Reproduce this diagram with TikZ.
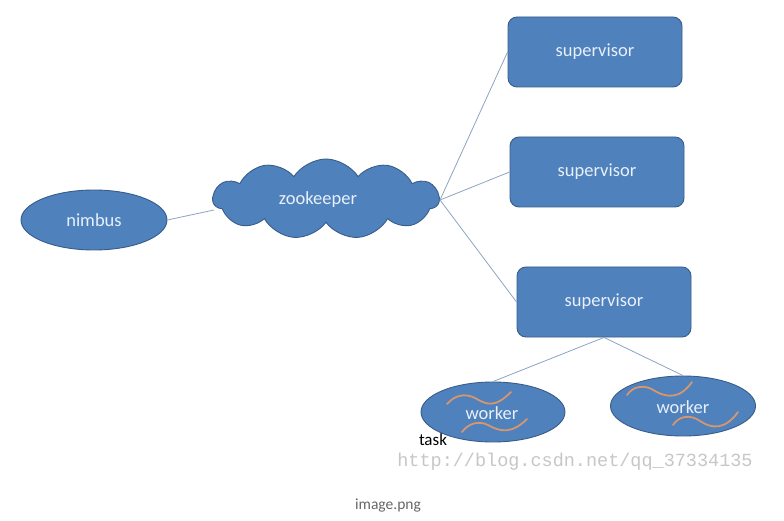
\documentclass[tikz,border=0pt]{standalone}
\usepackage{fontspec}
\setmainfont{Carlito}
\newfontfamily\wmfont{Liberation Mono}
\usetikzlibrary{shapes.symbols,shapes.geometric}
\definecolor{boxfill}{RGB}{79,129,189}
\definecolor{boxedge}{RGB}{56,93,138}
\definecolor{boxtext}{RGB}{232,240,250}
\definecolor{wave}{RGB}{214,150,110}
\definecolor{linkc}{RGB}{140,165,195}
\tikzset{
  lbl/.style={font=\fontsize{18.5}{22}\selectfont},
  blob/.style={ellipse, fill=boxfill, draw=boxedge, line width=0.9pt, text=boxtext, lbl},
  supbox/.style={rectangle, rounded corners=9pt, fill=boxfill, draw=boxedge, line width=0.9pt, text=boxtext, minimum width=174pt, minimum height=70pt, lbl},
  cloudy/.style={cloud, cloud puffs=11, cloud puff arc=115, aspect=2.8, fill=boxfill, draw=boxedge, line width=0.9pt, minimum width=226pt, minimum height=80pt},
  link/.style={draw=linkc, line width=0.8pt},
  wavy/.style={draw=wave, line width=1.8pt, line cap=round}
}
\begin{document}
\begin{tikzpicture}[x=1pt,y=-1pt]
\useasboundingbox[fill=white] (0,0) rectangle (784,521);
\node[blob, minimum width=146pt, minimum height=60pt] (nimbus) at (94,220) {nimbus};
\node[cloudy] (zk) at (326,199) {};
\node[text=boxtext, lbl] (zklabel) at (318,200) {zookeeper};
\node[supbox] (s1) at (595,52) {supervisor};
\node[supbox] (s2) at (597,172) {supervisor};
\node[supbox] (s3) at (604,302) {supervisor};
\node[blob, minimum width=144pt, minimum height=60pt] (w1) at (493,412) {};
\node[blob, minimum width=145pt, minimum height=60pt] (w2) at (683,406) {};
\coordinate (zkr) at (440,200);
\coordinate (zkl) at (214,210);
\draw[link] (nimbus.east) -- (zkl);
\draw[link] (zkr) -- (s1.west);
\draw[link] (zkr) -- (s2.west);
\draw[link] (zkr) -- (s3.west);
\draw[link] (s3.south) -- (w1.north);
\draw[link] (s3.south) -- (w2.north);
% waves worker 1
\draw[wavy] (447,404) .. controls (455,395) and (465,393) .. (475,398) .. controls (487,405) and (495,408) .. (511,392);
\draw[wavy] (462,432) .. controls (468,424) and (478,420) .. (488,425) .. controls (500,432) and (512,434) .. (527,419);
% waves worker 2
\draw[wavy] (627,395) .. controls (633,386) and (645,384) .. (655,391) .. controls (667,398) and (680,399) .. (692,382);
\draw[wavy] (673,425) .. controls (679,416) and (690,414) .. (700,421) .. controls (712,429) and (725,430) .. (738,412);
\node[text=boxtext, lbl] (w1t) at (492,413) {worker};
\node[text=boxtext, lbl] (w2t) at (683,407) {worker};
\node[inner sep=0pt, font=\fontsize{17}{19}\selectfont, text=black] (task) at (433,440) {task};
\node[inner sep=0pt, font=\wmfont\fontsize{18.5}{20}\selectfont, text=black!22] (wm) at (575,462) {http://blog.csdn.net/qq\_37334135};
\node[font=\fontsize{15.5}{17}\selectfont, text=black!60] (img) at (388,505) {image.png};
\end{tikzpicture}
\end{document}
